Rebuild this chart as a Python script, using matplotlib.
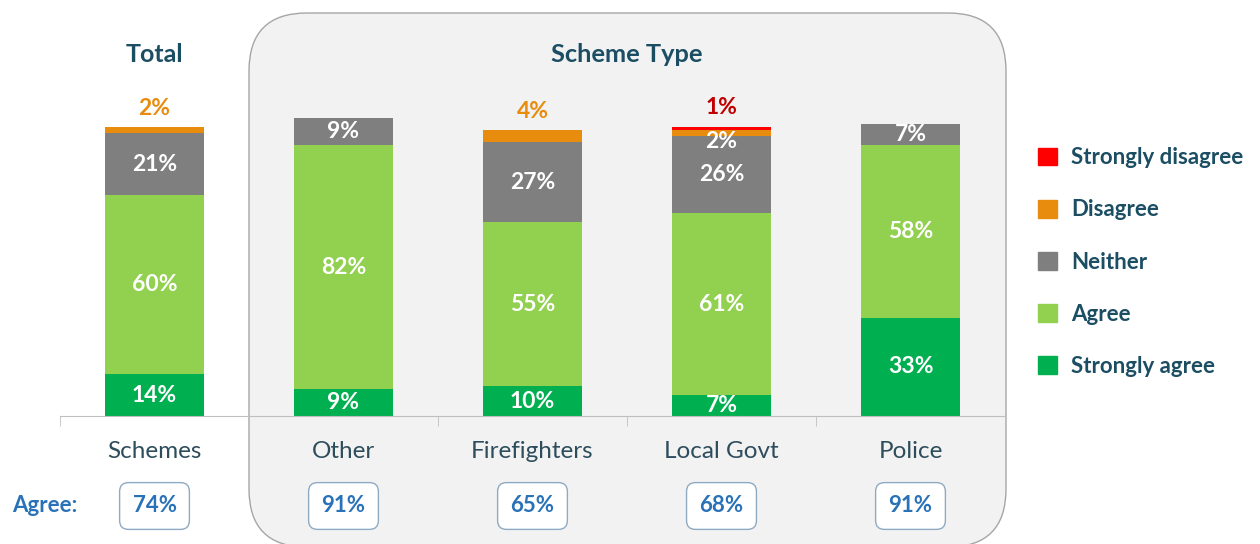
import matplotlib
matplotlib.use("Agg")
import matplotlib.pyplot as plt
from matplotlib.patches import FancyBboxPatch, Patch
from matplotlib.transforms import blended_transform_factory
import numpy as np

plt.rcParams['font.family'] = ['Lato', 'DejaVu Sans']

# ---- data ----
categories = ['Schemes', 'Other', 'Firefighters', 'Local Govt', 'Police']
strongly_agree = [14, 9, 10, 7, 33]
agree = [60, 82, 55, 61, 58]
neither = [21, 9, 27, 26, 7]
disagree = [2, 0, 4, 2, 0]
strongly_disagree = [0, 0, 0, 1, 0]
agree_total = [74, 91, 65, 68, 91]
series_names = ['Strongly agree', 'Agree', 'Neither', 'Disagree', 'Strongly disagree']

# ---- style ----
C_SA = '#00B050'
C_A = '#92D050'
C_N = '#7F7F7F'
C_D = '#E88C0E'
C_SD = '#FF0000'
TEAL = '#1B4D63'
CAT = '#2E4D5C'
BLUE = '#2A72B8'

W, H = 1260, 544
fig = plt.figure(figsize=(W / 100, H / 100), dpi=100)

# background layer in pixel coordinates
bg = fig.add_axes([0, 0, 1, 1], zorder=0)
bg.set_xlim(0, W)
bg.set_ylim(H, 0)
bg.axis('off')
panel = FancyBboxPatch((249, 13), 757, 534,
                       boxstyle="round,pad=0,rounding_size=58",
                       fc='#F2F2F2', ec='#A6A6A6', lw=1.0)
bg.add_patch(panel)

# bar axes
ax = fig.add_axes([60 / W, 128 / H, 945 / W, 298 / H], zorder=1)
ax.patch.set_alpha(0)
ax.set_xlim(-0.5, 4.5)
ax.set_ylim(0, 100)

x = np.arange(len(categories))
bw = 0.524
sa = np.array(strongly_agree, float)
ag = np.array(agree, float)
ne = np.array(neither, float)
di = np.array(disagree, float)
sd = np.array(strongly_disagree, float)

ax.bar(x, sa, bw, color=C_SA)
ax.bar(x, ag, bw, bottom=sa, color=C_A)
ax.bar(x, ne, bw, bottom=sa + ag, color=C_N)
ax.bar(x, di, bw, bottom=sa + ag + ne, color=C_D)
ax.bar(x, sd, bw, bottom=sa + ag + ne + di, color=C_SD)

lab_kw = dict(ha='center', va='center', fontsize=16.5, fontweight='bold')
for i in x:
    ax.text(i, sa[i] / 2, f'{int(sa[i])}%', color='white', **lab_kw)
    ax.text(i, sa[i] + ag[i] / 2, f'{int(ag[i])}%', color='white', **lab_kw)
    ax.text(i, sa[i] + ag[i] + ne[i] / 2, f'{int(ne[i])}%', color='white', **lab_kw)
    top = sa[i] + ag[i] + ne[i] + di[i] + sd[i]
    if sd[i] > 0:
        ax.annotate(f'{int(sd[i])}%', (i, top), xytext=(0, 14), textcoords='offset points',
                    color='#C00000', **lab_kw)
        if di[i] > 0:
            ax.annotate(f'{int(di[i])}%', (i, sa[i] + ag[i] + ne[i] + di[i] / 2),
                        xytext=(0, -6), textcoords='offset points', color='white', **lab_kw)
    elif di[i] > 0:
        ax.annotate(f'{int(di[i])}%', (i, top), xytext=(0, 13), textcoords='offset points',
                    color=C_D, **lab_kw)

# axis styling
for s in ['top', 'left', 'right']:
    ax.spines[s].set_visible(False)
ax.spines['bottom'].set_color('#BFBFBF')
ax.set_yticks([])
ax.set_xticks(x)
ax.set_xticklabels(categories, fontsize=17.5, color=CAT)
ax.tick_params(axis='x', which='major', length=0, pad=18)
ax.set_xticks(np.arange(-0.5, 5, 1), minor=True)
ax.tick_params(axis='x', which='minor', length=7, color='#BFBFBF', direction='out')

# titles
tr = blended_transform_factory(ax.transData, ax.transAxes)
ax.text(0, 1.212, 'Total', transform=tr, ha='center', va='center',
        fontsize=18, fontweight='bold', color=TEAL)
ax.text(2.5, 1.212, 'Scheme Type', transform=tr, ha='center', va='center',
        fontsize=18.3, fontweight='bold', color=TEAL)

# agree boxes
box_y = -(506 - 416) / 298
for i, v in zip(x, agree_total):
    ax.text(i, box_y, f'{v}%', transform=tr, ha='center', va='center',
            fontsize=16, fontweight='bold', color=BLUE,
            bbox=dict(boxstyle='round,pad=0.58,rounding_size=0.4', fc='white',
                      ec='#8FAAC3', lw=1.0))
bg.text(12, 506, 'Agree:', ha='left', va='center', fontsize=16,
        fontweight='bold', color=BLUE)

# legend
handles = [Patch(color=C_SD), Patch(color=C_D), Patch(color=C_N), Patch(color=C_A), Patch(color=C_SA)]
labels = series_names[::-1]
leg = fig.legend(handles, labels, loc='center left', bbox_to_anchor=(1038 / W, (H - 262) / H),
                 frameon=False, fontsize=16, handlelength=0.85, handleheight=0.85,
                 handletextpad=0.65, labelspacing=1.4, borderpad=0, borderaxespad=0)
for t in leg.get_texts():
    t.set_color(TEAL)
    t.set_fontweight('bold')

fig.savefig('out.png', dpi=100)
